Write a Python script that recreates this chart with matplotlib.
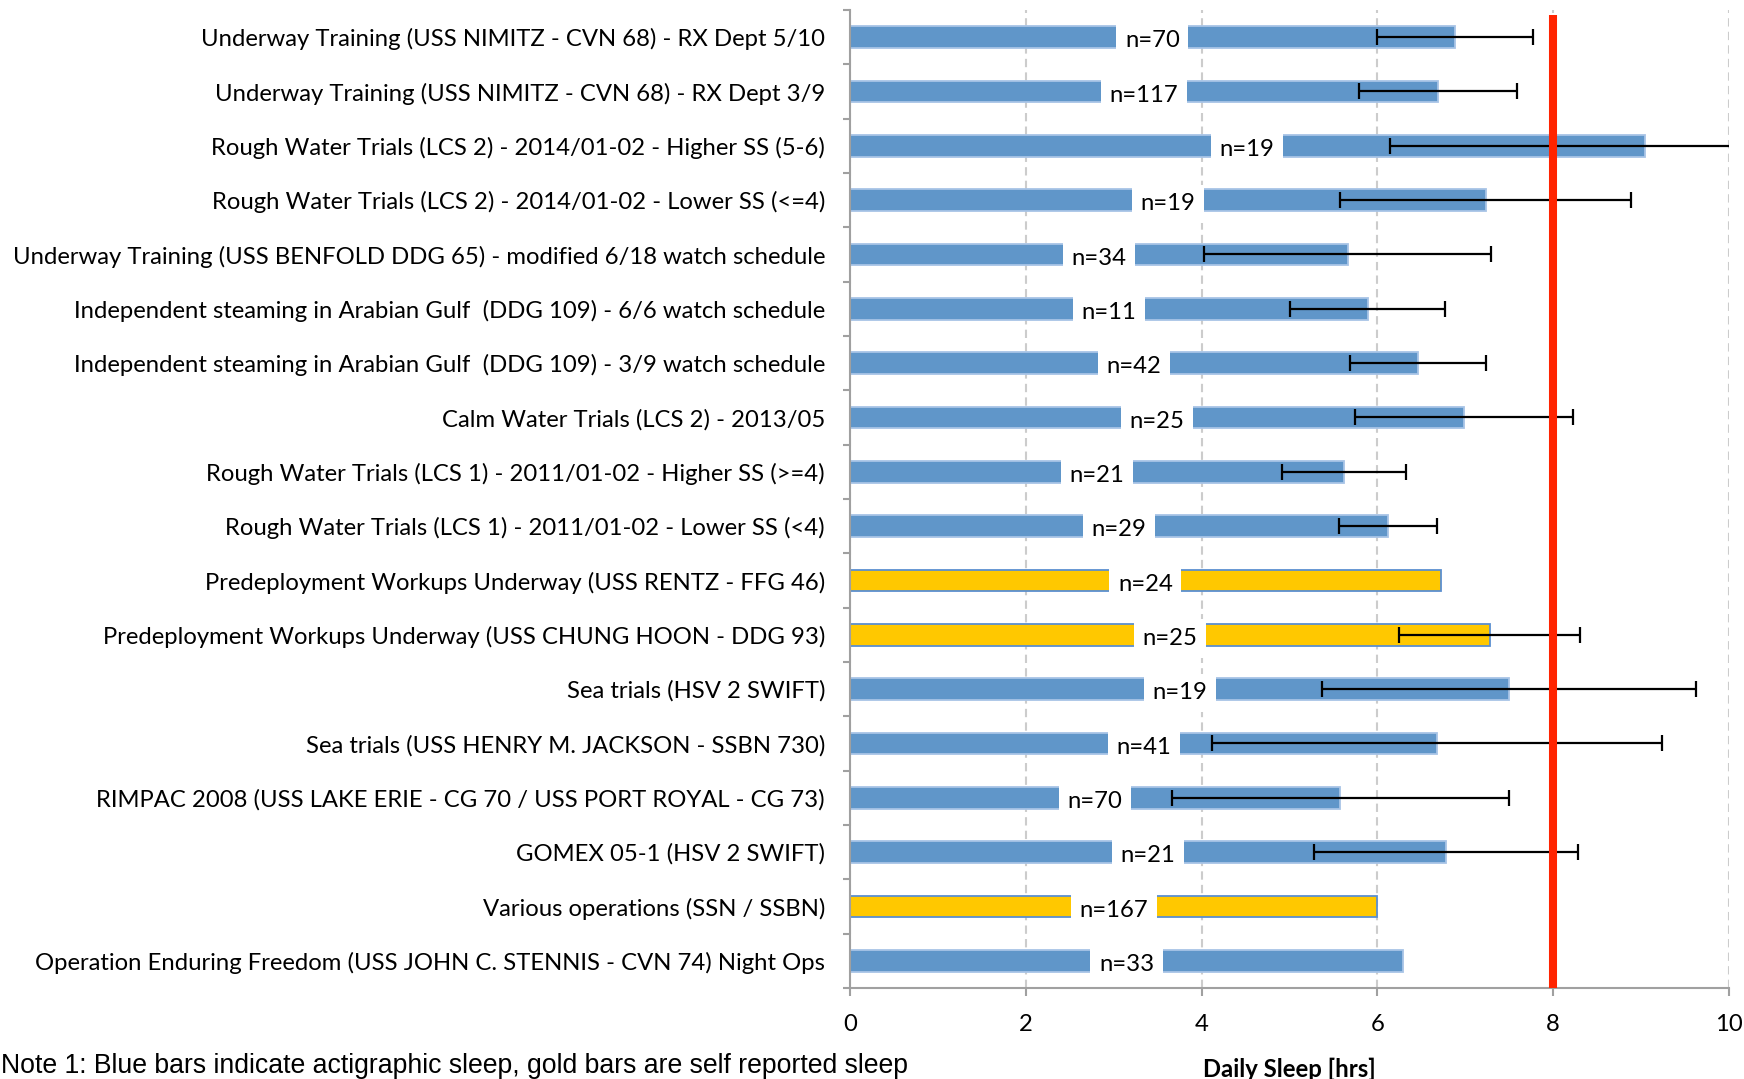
import numpy as np
import matplotlib
matplotlib.use("Agg")
import matplotlib.pyplot as plt
from matplotlib.ticker import FixedLocator

# Studies, top to bottom
studies = [
    "Underway Training (USS NIMITZ - CVN 68) - RX Dept 5/10",
    "Underway Training (USS NIMITZ - CVN 68) - RX Dept 3/9",
    "Rough Water Trials (LCS 2) - 2014/01-02 - Higher SS (5-6)",
    "Rough Water Trials (LCS 2) - 2014/01-02 - Lower SS (<=4)",
    "Underway Training (USS BENFOLD DDG 65) - modified 6/18 watch schedule",
    "Independent steaming in Arabian Gulf  (DDG 109) - 6/6 watch schedule",
    "Independent steaming in Arabian Gulf  (DDG 109) - 3/9 watch schedule",
    "Calm Water Trials (LCS 2) - 2013/05",
    "Rough Water Trials (LCS 1) - 2011/01-02 - Higher SS (>=4)",
    "Rough Water Trials (LCS 1) - 2011/01-02 - Lower SS (<4)",
    "Predeployment Workups Underway (USS RENTZ - FFG 46)",
    "Predeployment Workups Underway (USS CHUNG HOON - DDG 93)",
    "Sea trials (HSV 2 SWIFT)",
    "Sea trials (USS HENRY M. JACKSON - SSBN 730)",
    "RIMPAC 2008 (USS LAKE ERIE - CG 70 / USS PORT ROYAL - CG 73)",
    "GOMEX 05-1 (HSV 2 SWIFT)",
    "Various operations (SSN / SSBN)",
    "Operation Enduring Freedom (USS JOHN C. STENNIS - CVN 74) Night Ops",
]
sleep_hrs = [6.88, 6.69, 9.04, 7.23, 5.66, 5.89, 6.46, 6.98, 5.62, 6.12,
             6.72, 7.28, 7.50, 6.68, 5.58, 6.78, 6.00, 6.29]
sleep_sd = [0.89, 0.90, 2.90, 1.65, 1.63, 0.88, 0.77, 1.24, 0.71, 0.56,
            np.nan, 1.03, 2.13, 2.56, 1.92, 1.50, np.nan, np.nan]
sample_n = [70, 117, 19, 19, 34, 11, 42, 25, 21, 29, 24, 25, 19, 41, 70, 21, 167, 33]
self_reported = [False, False, False, False, False, False, False, False, False, False,
                 True, True, False, False, False, False, True, False]
recommended_sleep = 8

x_ticks = [0, 2, 4, 6, 8, 10]

BLUE = "#6096c9"
BLUE_EDGE = "#a8c4e6"
GOLD = "#ffc800"
GOLD_EDGE = "#5b8fd0"
RED = "#ff2400"
LABEL_FONT = "Lato"
FS = 17.2

W, H = 1744, 1079
fig = plt.figure(figsize=(W / 100, H / 100), dpi=100)
ax = fig.add_axes([850 / W, 1 - 988 / H, (1729 - 850) / W, (988 - 10) / H])

y = np.arange(len(studies))
colors = [GOLD if s else BLUE for s in self_reported]
edges = [GOLD_EDGE if s else BLUE_EDGE for s in self_reported]
ax.barh(y, sleep_hrs, height=0.40, color=colors, edgecolor=edges,
        linewidth=1.3, zorder=2)

# sample size labels sit on the middle of each bar
for yi, v, n in zip(y, sleep_hrs, sample_n):
    ax.text(v / 2, yi + 0.03, f"n={n}", ha="center", va="center_baseline", fontsize=FS,
            family=LABEL_FONT, color="black", zorder=3,
            bbox=dict(boxstyle="square,pad=0.36", fc="white", ec="none"))

sd = np.array(sleep_sd)
has_sd = np.isfinite(sd)
ax.errorbar(np.array(sleep_hrs)[has_sd], y[has_sd], xerr=sd[has_sd], fmt="none",
            ecolor="black", elinewidth=1.6, capsize=5.6, capthick=1.6, zorder=4)

ax.axvline(recommended_sleep, ymin=0, ymax=0.995, color=RED, linewidth=5.8,
           zorder=5, solid_capstyle="butt")

ax.set_xlim(0, 10)
ax.set_ylim(len(studies) - 0.5, -0.5)
ax.set_xticks(x_ticks)
ax.set_xticklabels([str(t) for t in x_ticks], fontsize=FS, family=LABEL_FONT)
ax.set_yticks(y)
ax.set_yticklabels(studies, fontsize=FS, family=LABEL_FONT, va="center_baseline")
for lbl in ax.get_yticklabels():
    lbl.set_y(lbl.get_position()[1])
ax.yaxis.set_minor_locator(FixedLocator(np.arange(-0.5, len(studies), 1.0)))

ax.tick_params(axis="y", which="major", length=0, pad=18)
ax.tick_params(axis="y", which="minor", length=5, width=1.5, color="#a0a0a0")
ax.tick_params(axis="x", which="major", length=6, width=1.5, color="#a0a0a0", pad=13)

ax.xaxis.grid(True, color="#cccccc", linestyle=(0, (4, 2.5)), linewidth=1.5, zorder=0)
ax.set_axisbelow(True)
for side in ("top", "right"):
    ax.spines[side].set_visible(False)
for side in ("left", "bottom"):
    ax.spines[side].set_color("#a0a0a0")
    ax.spines[side].set_linewidth(1.5)

ax.set_xlabel("Daily Sleep [hrs]", fontsize=FS, family=LABEL_FONT,
              fontweight="bold", labelpad=16)

fig.text(1 / W, 6 / H,
         "Note 1: Blue bars indicate actigraphic sleep, gold bars are self reported sleep",
         ha="left", va="baseline", fontsize=19.2, family="Liberation Sans", color="black")

fig.savefig("out.png", dpi=100, facecolor="white")
